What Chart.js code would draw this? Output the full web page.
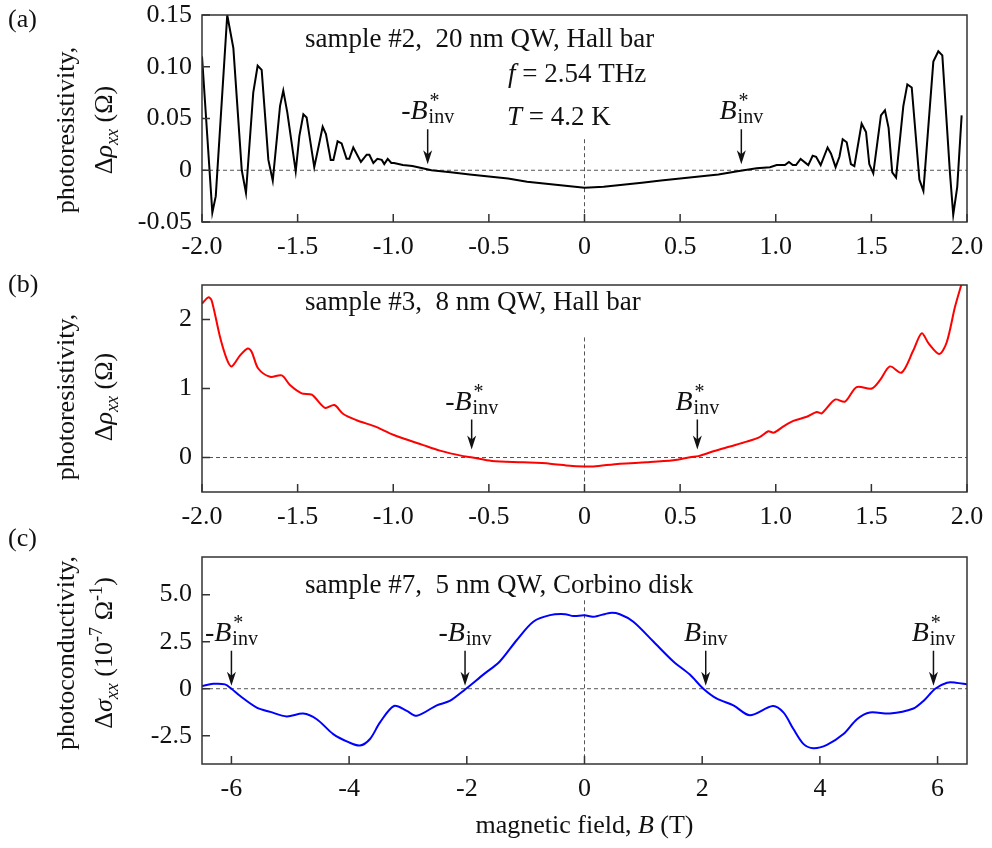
<!DOCTYPE html>
<html>
<head>
<meta charset="utf-8">
<script src="https://cdn.jsdelivr.net/npm/chart.js@4.4.0/dist/chart.umd.min.js"></script>
<style>
  html, body { margin: 0; padding: 0; background: #fff; }
  #wrap { position: relative; width: 992px; height: 848px; }
  canvas { position: absolute; left: 0; }
</style>
</head>
<body>
<div id="wrap">
  <canvas id="chartA" width="992" height="270" style="top:0px"></canvas>
  <canvas id="chartB" width="992" height="270" style="top:270px"></canvas>
  <canvas id="chartC" width="992" height="328" style="top:520px"></canvas>
</div>
<script>
const SERIF = '"Liberation Serif", "Times New Roman", serif';

// (a) sample #2, 20 nm QW, Hall bar  -- photoresistivity (Ohm) vs B (T)
const fieldA = [-2.0, -1.946, -1.928, -1.868, -1.836, -1.792, -1.770, -1.732, -1.709, -1.688,
  -1.653, -1.630, -1.592, -1.575, -1.554, -1.510, -1.491, -1.470, -1.453, -1.413,
  -1.369, -1.352, -1.327, -1.313, -1.291, -1.270, -1.244, -1.230, -1.209, -1.169,
  -1.139, -1.125, -1.104, -1.083, -1.060, -1.047, -1.029, -1.010, -0.996, -0.95,
  -0.9, -0.8, -0.7, -0.6, -0.5, -0.4, -0.3, -0.2, -0.1, 0,
  0.1, 0.2, 0.3, 0.4, 0.5, 0.6, 0.7, 0.8, 0.9, 0.97,
  1.005, 1.048, 1.069, 1.089, 1.106, 1.130, 1.170, 1.193, 1.211, 1.235,
  1.271, 1.289, 1.313, 1.333, 1.350, 1.371, 1.393, 1.411, 1.449, 1.472,
  1.489, 1.510, 1.550, 1.571, 1.590, 1.609, 1.629, 1.667, 1.688, 1.711,
  1.751, 1.772, 1.824, 1.850, 1.871, 1.911, 1.928, 1.949, 1.972];
const rhoA = [0.11, -0.041, -0.025, 0.150, 0.118, 0.0, -0.022, 0.075, 0.101, 0.097,
  0.010, -0.010, 0.062, 0.077, 0.056, -0.001, 0.033, 0.054, 0.051, 0.003,
  0.042, 0.035, 0.010, 0.010, 0.028, 0.026, 0.011, 0.011, 0.022, 0.008,
  0.015, 0.015, 0.007, 0.011, 0.010, 0.006, 0.011, 0.007, 0.007, 0.005,
  0.004, 0.000, -0.002, -0.004, -0.006, -0.008, -0.011, -0.013, -0.015, -0.017,
  -0.016, -0.014, -0.012, -0.010, -0.008, -0.006, -0.004, -0.001, 0.002, 0.003,
  0.005, 0.005, 0.008, 0.005, 0.005, 0.011, 0.005, 0.014, 0.013, 0.005,
  0.022, 0.016, 0.003, 0.013, 0.030, 0.027, 0.006, 0.004, 0.045, 0.037,
  0.006, -0.003, 0.053, 0.058, 0.041, -0.002, -0.007, 0.062, 0.083, 0.080,
  -0.009, -0.020, 0.105, 0.115, 0.111, -0.003, -0.043, -0.016, 0.053];

// (b) sample #3, 8 nm QW, Hall bar
const fieldB = [-2.0, -1.967, -1.95, -1.906, -1.871, -1.845, -1.801, -1.761, -1.74, -1.706,
  -1.644, -1.583, -1.540, -1.479, -1.426, -1.357, -1.308, -1.261, -1.191, -1.087,
  -1.0, -0.843, -0.756, -0.634, -0.585, -0.485, -0.32, -0.18, -0.076, 0,
  0.046, 0.186, 0.325, 0.464, 0.552, 0.595, 0.674, 0.761, 0.848, 0.918,
  0.961, 0.99, 1.040, 1.092, 1.162, 1.214, 1.24, 1.310, 1.362, 1.423,
  1.502, 1.545, 1.597, 1.658, 1.719, 1.763, 1.80, 1.855, 1.894, 1.937, 1.972];
const rhoB = [2.23, 2.32, 2.28, 1.75, 1.43, 1.32, 1.48, 1.58, 1.53, 1.29,
  1.17, 1.19, 1.05, 0.93, 0.91, 0.72, 0.76, 0.63, 0.54, 0.44,
  0.33, 0.18, 0.10, 0.02, 0.0, -0.05, -0.07, -0.09, -0.12, -0.13,
  -0.13, -0.09, -0.07, -0.04, 0.005, 0.02, 0.09, 0.16, 0.23, 0.30,
  0.38, 0.36, 0.45, 0.53, 0.59, 0.66, 0.64, 0.84, 0.81, 1.02,
  1.00, 1.12, 1.32, 1.23, 1.55, 1.80, 1.65, 1.50, 1.67, 2.18, 2.52];

// (c) sample #7, 5 nm QW, Corbino disk -- photoconductivity (1e-7 / Ohm)
const fieldC = [-6.5, -6.31, -6.11, -6.0, -5.85, -5.57, -5.34, -5.06, -4.78, -4.55,
  -4.27, -4.01, -3.815, -3.645, -3.475, -3.237, -3.02, -2.85, -2.51, -2.29,
  -2.03, -1.72, -1.44, -1.15, -0.87, -0.586, -0.33, -0.19, 0, 0.15,
  0.43, 0.60, 0.83, 1.17, 1.51, 1.79, 2.02, 2.25, 2.53, 2.81,
  3.20, 3.38, 3.55, 3.72, 3.89, 4.12, 4.40, 4.63, 4.85, 5.19,
  5.59, 5.76, 5.96, 6.16, 6.31, 6.5];
const sigmaC = [0.14, 0.26, 0.23, 0.0, -0.39, -1.0, -1.23, -1.47, -1.32, -1.62,
  -2.41, -2.84, -3.02, -2.67, -1.79, -0.92, -1.18, -1.44, -0.88, -0.65,
  -0.04, 0.75, 1.45, 2.59, 3.56, 3.91, 3.96, 3.86, 3.9, 3.82,
  4.03, 3.96, 3.56, 2.51, 1.45, 0.75, 0.0, -0.53, -0.88, -1.41,
  -0.92, -1.26, -2.14, -2.93, -3.16, -2.98, -2.41, -1.62, -1.26, -1.32,
  -1.05, -0.65, 0.0, 0.32, 0.32, 0.23];

const xTicksAB = [-2, -1.5, -1, -0.5, 0, 0.5, 1, 1.5, 2];
const xLabelsAB = ['-2.0', '-1.5', '-1.0', '-0.5', '0', '0.5', '1.0', '1.5', '2.0'];
const yTicksA = [-0.05, 0, 0.05, 0.1, 0.15];
const yLabelsA = ['-0.05', '0', '0.05', '0.10', '0.15'];
const yTicksB = [0, 1, 2];
const yLabelsB = ['0', '1', '2'];
const xTicksC = [-6, -4, -2, 0, 2, 4, 6];
const xLabelsC = ['-6', '-4', '-2', '0', '2', '4', '6'];
const yTicksC = [-2.5, 0, 2.5, 5];
const yLabelsC = ['-2.5', '0', '2.5', '5.0'];

// arrow markers (field value, label)
const arrowsA = [-0.82, 0.82];
const arrowTextA = ['-B*', 'B*'];
const arrowsB = [-0.59, 0.59];
const arrowTextB = ['-B*', 'B*'];
const arrowsC = [-6.0, -2.03, 2.06, 5.93];
const arrowTextC = ['-B*', '-B', 'B', 'B*'];

function drawParts(ctx, parts, x, y, size, center) {
  let w = 0;
  parts.forEach(p => {
    ctx.font = (p.i ? 'italic ' : '') + (p.sub || p.sup ? size * 0.7 : size) + 'px ' + SERIF;
    w += ctx.measureText(p.t).width;
  });
  let cx = center ? x - w / 2 : x;
  parts.forEach(p => {
    const s = p.sub || p.sup ? size * 0.7 : size;
    ctx.font = (p.i ? 'italic ' : '') + s + 'px ' + SERIF;
    const dy = p.sub ? size * 0.22 : p.sup ? -size * 0.4 : 0;
    ctx.fillText(p.t, cx, y + dy);
    cx += ctx.measureText(p.t).width;
  });
}

function drawBLabel(ctx, cx, base, code) {
  const neg = code[0] === '-';
  const star = code.endsWith('*');
  ctx.font = '28px ' + SERIF;
  const wm = neg ? ctx.measureText('-').width : 0;
  ctx.font = 'italic 28px ' + SERIF;
  const wB = ctx.measureText('B').width;
  ctx.font = '20px ' + SERIF;
  const wi = ctx.measureText('inv').width;
  let x0 = cx - (wm + wB + wi + 1) / 2;
  if (neg) { ctx.font = '28px ' + SERIF; ctx.fillText('-', x0, base); }
  ctx.font = 'italic 28px ' + SERIF;
  ctx.fillText('B', x0 + wm, base);
  ctx.font = '20px ' + SERIF;
  ctx.fillText('inv', x0 + wm + wB + 1, base + 4);
  if (star) ctx.fillText('*', x0 + wm + wB + 2, base - 12);
}

const deco = {
  id: 'deco',
  beforeDatasetsDraw(chart, args, o) {
    const { ctx, chartArea: a, scales: { x, y } } = chart;
    ctx.save();
    ctx.strokeStyle = '#555';
    ctx.lineWidth = 1;
    ctx.setLineDash([4, 3]);
    const y0 = y.getPixelForValue(0), x0 = x.getPixelForValue(0);
    ctx.beginPath();
    ctx.moveTo(a.left, y0); ctx.lineTo(a.right, y0);
    ctx.moveTo(x0, y.getPixelForValue(o.vTop)); ctx.lineTo(x0, a.bottom);
    ctx.stroke();
    ctx.restore();
  },
  afterDatasetsDraw(chart, args, o) {
    const { ctx, chartArea: a, scales: { x, y } } = chart;
    ctx.save();
    // frame and inward ticks
    ctx.strokeStyle = '#333';
    ctx.lineWidth = 1.5;
    ctx.strokeRect(a.left, a.top, a.right - a.left, a.bottom - a.top);
    ctx.beginPath();
    x.ticks.forEach(t => {
      const px = x.getPixelForValue(t.value);
      ctx.moveTo(px, a.bottom); ctx.lineTo(px, a.bottom - 8);
    });
    y.ticks.forEach(t => {
      const py = y.getPixelForValue(t.value);
      ctx.moveTo(a.left, py); ctx.lineTo(a.left + 8, py);
    });
    ctx.stroke();

    // arrows
    ctx.fillStyle = '#111';
    ctx.strokeStyle = '#111';
    o.arrows.forEach((v, i) => {
      const px = x.getPixelForValue(v);
      const tip = y.getPixelForValue(0) - o.gap;
      const top = tip - o.len;
      ctx.lineWidth = 1.5;
      ctx.beginPath(); ctx.moveTo(px, top); ctx.lineTo(px, tip - 8); ctx.stroke();
      ctx.beginPath();
      ctx.moveTo(px, tip); ctx.lineTo(px - 4.5, tip - 14); ctx.lineTo(px, tip - 10); ctx.lineTo(px + 4.5, tip - 14);
      ctx.closePath(); ctx.fill();
      drawBLabel(ctx, px, top - 10, o.arrowText[i]);
    });

    // annotations
    ctx.textBaseline = 'alphabetic';
    o.texts.forEach(t => drawParts(ctx, t.parts, t.x, t.y, 27, false));
    ctx.font = '26px ' + SERIF;
    ctx.fillText(o.panel, 8, o.panelY);

    // y title, two rotated lines
    [o.yTitle1, o.yTitle2].forEach((parts, k) => {
      ctx.save();
      ctx.translate(k === 0 ? 74 : 112, o.yTitleY);
      ctx.rotate(-Math.PI / 2);
      drawParts(ctx, parts, 0, 0, 26, true);
      ctx.restore();
    });
    if (o.xTitle) drawParts(ctx, o.xTitle, (a.left + a.right) / 2, o.xTitleY, 26, true);
    ctx.restore();
  }
};

function makePanel(id, field, vals, color, tension, xr, yr, xt, xl, yt, yl, axisH, padTop, decoOpts) {
  return new Chart(document.getElementById(id), {
    type: 'line',
    data: {
      datasets: [{
        data: field.map((b, i) => ({ x: b, y: vals[i] })),
        borderColor: color,
        borderWidth: 2,
        pointRadius: 0,
        tension: tension,
        fill: false
      }]
    },
    options: {
      responsive: false,
      animation: false,
      layout: { padding: { top: padTop, right: 25, left: 0, bottom: 0 } },
      plugins: { legend: { display: false }, tooltip: { enabled: false }, deco: decoOpts },
      scales: {
        x: {
          type: 'linear', min: xr[0], max: xr[1],
          grid: { display: false, drawTicks: false }, border: { display: false },
          afterBuildTicks: s => { s.ticks = xt.map(v => ({ value: v })); },
          afterFit: s => { s.height = axisH; s.paddingLeft = 0; s.paddingRight = 0; },
          ticks: {
            autoSkip: false, maxRotation: 0, padding: 10, color: '#111',
            font: { family: SERIF, size: 26 },
            callback: (v, i) => xl[i]
          }
        },
        y: {
          type: 'linear', min: yr[0], max: yr[1],
          grid: { display: false, drawTicks: false }, border: { display: false },
          afterBuildTicks: s => { s.ticks = yt.map(v => ({ value: v })); },
          afterFit: s => { s.width = 202; s.paddingTop = 0; s.paddingBottom = 0; },
          ticks: {
            padding: 10, color: '#111',
            font: { family: SERIF, size: 26, lineHeight: 1 },
            callback: (v, i) => yl[i]
          }
        }
      }
    },
    plugins: [deco]
  });
}

const rhoTitle = [{ t: 'Δ' }, { t: 'ρ', i: true }, { t: 'xx', i: true, sub: true }, { t: ' (Ω)' }];

makePanel('chartA', fieldA, rhoA, '#000', 0, [-2, 2], [-0.05, 0.15], xTicksAB, xLabelsAB, yTicksA, yLabelsA, 48, 15, {
  vTop: 0.03, arrows: arrowsA, arrowText: arrowTextA, gap: 6, len: 35,
  texts: [
    { x: 305, y: 47, parts: [{ t: 'sample #2,  20 nm QW, Hall bar' }] },
    { x: 508, y: 82, parts: [{ t: 'f', i: true }, { t: ' = 2.54 THz' }] },
    { x: 507, y: 125, parts: [{ t: 'T', i: true }, { t: ' = 4.2 K' }] }
  ],
  panel: '(a)', panelY: 27,
  yTitle1: [{ t: 'photoresistivity,' }], yTitle2: rhoTitle, yTitleY: 130
});

makePanel('chartB', fieldB, rhoB, '#ff0000', 0.3, [-2, 2], [-0.5, 2.5], xTicksAB, xLabelsAB, yTicksB, yLabelsB, 48, 15, {
  vTop: 1.74, arrows: arrowsB, arrowText: arrowTextB, gap: 8, len: 30,
  texts: [{ x: 305, y: 40, parts: [{ t: 'sample #3,  8 nm QW, Hall bar' }] }],
  panel: '(b)', panelY: 22,
  yTitle1: [{ t: 'photoresistivity,' }], yTitle2: rhoTitle, yTitleY: 127
});

makePanel('chartC', fieldC, sigmaC, '#0000ff', 0.3, [-6.5, 6.5], [-4, 7], xTicksC, xLabelsC, yTicksC, yLabelsC, 84, 37, {
  vTop: 4.7, arrows: arrowsC, arrowText: arrowTextC, gap: 3, len: 35,
  texts: [{ x: 305, y: 73, parts: [{ t: 'sample #7,  5 nm QW, Corbino disk' }] }],
  panel: '(c)', panelY: 26,
  yTitle1: [{ t: 'photoconductivity,' }],
  yTitle2: [{ t: 'Δ' }, { t: 'σ', i: true }, { t: 'xx', i: true, sub: true }, { t: ' (10' }, { t: '-7', sup: true },
    { t: ' Ω' }, { t: '-1', sup: true }, { t: ')' }],
  yTitleY: 133,
  xTitle: [{ t: 'magnetic field, ' }, { t: 'B', i: true }, { t: ' (T)' }], xTitleY: 313
});
</script>
</body>
</html>
